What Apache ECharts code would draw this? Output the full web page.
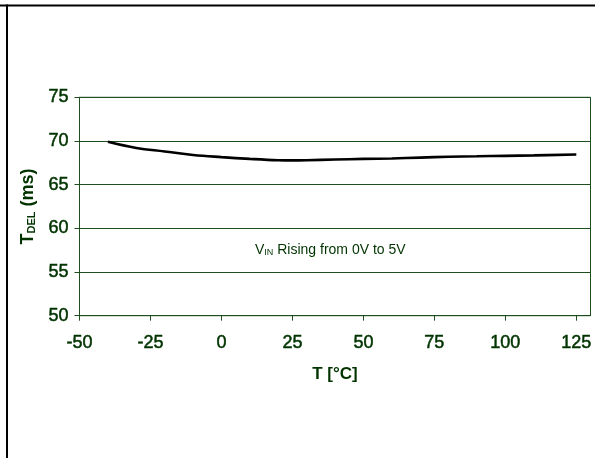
<!DOCTYPE html>
<html>
<head>
<meta charset="utf-8">
<script src="https://cdn.jsdelivr.net/npm/echarts@6/dist/echarts.min.js"></script>
<style>
html,body{margin:0;padding:0;background:#fff;}
#chart{width:595px;height:458px;}
</style>
</head>
<body>
<div id="chart"></div>
<script>
// Data
const temps = [-40, -30, -20, -10, 0, 10, 20, 25, 30, 40, 50, 60, 70, 80, 90, 100, 110, 125];
const tdel  = [69.9, 69.2, 68.8, 68.4, 68.15, 67.95, 67.8, 67.78, 67.8, 67.88, 67.95, 68.0, 68.1, 68.2, 68.25, 68.3, 68.35, 68.45];
const xTicks = [-50, -25, 0, 25, 50, 75, 100, 125];
const yTicks = [50, 55, 60, 65, 70, 75];

const GREEN = '#003300';
const LINEG = '#1e4d1e';
const FONT = '"Liberation Sans", Arial, Helvetica, sans-serif';

const chart = echarts.init(document.getElementById('chart'));
chart.setOption({
  animation: false,
  backgroundColor: '#fff',
  grid: {
    left: 79.5, right: 4.5, top: 97.3, bottom: 142.3,
    show: true, borderColor: LINEG, borderWidth: 1, backgroundColor: 'transparent'
  },
  xAxis: {
    type: 'value',
    min: -50, max: 130, interval: 25,
    name: 'T [°C]',
    nameLocation: 'middle',
    nameGap: 50,
    nameTextStyle: { color: GREEN, fontFamily: FONT, fontSize: 17, fontWeight: 'bold' },
    axisLine: { show: true, onZero: false, lineStyle: { color: LINEG, width: 1 } },
    axisTick: { show: true, length: 5, lineStyle: { color: LINEG }, customValues: xTicks },
    axisLabel: { color: GREEN, fontFamily: FONT, fontSize: 18, margin: 18, customValues: xTicks,
                 textBorderColor: GREEN, textBorderWidth: 0.5 },
    splitLine: { show: false }
  },
  yAxis: {
    type: 'value',
    min: yTicks[0], max: yTicks[yTicks.length - 1], interval: 5,
    name: '{b|T}{s|DEL}{b| (ms)}',
    nameLocation: 'middle',
    nameGap: 41,
    nameTextStyle: {
      color: GREEN, fontFamily: FONT, fontSize: 18, fontWeight: 'bold',
      rich: {
        b: { color: GREEN, fontFamily: FONT, fontSize: 18, fontWeight: 'bold', verticalAlign: 'bottom', lineHeight: 20 },
        s: { color: GREEN, fontFamily: FONT, fontSize: 11, fontWeight: 'bold', verticalAlign: 'bottom', lineHeight: 15 }
      }
    },
    axisLine: { show: true, onZero: false, lineStyle: { color: LINEG, width: 1 } },
    axisTick: { show: true, length: 5, lineStyle: { color: LINEG } },
    axisLabel: { color: GREEN, fontFamily: FONT, fontSize: 18, margin: 11,
                 textBorderColor: GREEN, textBorderWidth: 0.5 },
    splitLine: { show: true, lineStyle: { color: LINEG, width: 1 } }
  },
  series: [{
    type: 'line',
    data: temps.map((t, i) => [t, tdel[i]]),
    smooth: 0.4,
    showSymbol: false,
    lineStyle: { color: '#000', width: 2.6 }
  }],
  graphic: [
    { type: 'rect', shape: { x: 0, y: 4.5, width: 595, height: 2 }, style: { fill: '#000' }, silent: true },
    { type: 'rect', shape: { x: 6, y: 4.5, width: 2, height: 454 }, style: { fill: '#000' }, silent: true },
    {
      type: 'text', left: 255, top: 243,
      style: {
        text: '{v|V}{s|IN}{v| Rising from 0V to 5V}',
        fill: GREEN,
        rich: {
          v: { fontFamily: FONT, fontSize: 14, fill: GREEN, verticalAlign: 'bottom', lineHeight: 16 },
          s: { fontFamily: FONT, fontSize: 9, fill: GREEN, verticalAlign: 'bottom', lineHeight: 12 }
        }
      }
    }
  ]
});
</script>
</body>
</html>
